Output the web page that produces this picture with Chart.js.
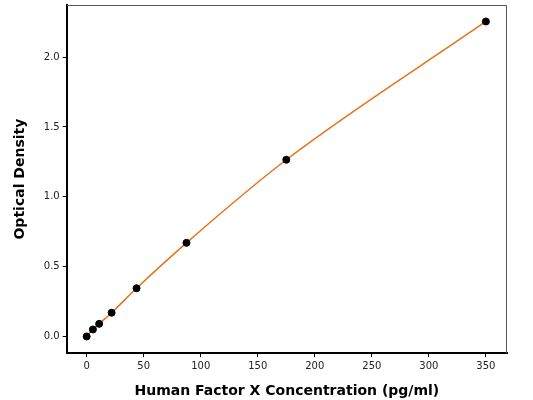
<!DOCTYPE html>
<html>
<head>
<meta charset="utf-8">
<script src="https://cdn.jsdelivr.net/npm/chart.js@4"></script>
<style>
html,body{margin:0;padding:0;background:#fff;}
#wrap{width:533px;height:400px;}
</style>
</head>
<body>
<div id="wrap"><canvas id="c" width="533" height="400"></canvas></div>
<script>
const concentrations = [0, 5.47, 10.94, 21.88, 43.75, 87.5, 175, 350];
const opticalDensity = [0.0, 0.05, 0.09, 0.17, 0.345, 0.67, 1.265, 2.255];
const xTickValues = [0, 50, 100, 150, 200, 250, 300, 350];
const yTickValues = [0.0, 0.5, 1.0, 1.5, 2.0];
const xTitle = 'Human Factor X Concentration (pg/ml)';
const yTitle = 'Optical Density';

const pts = concentrations.map((x, i) => ({x: x, y: opticalDensity[i]}));

const frame = {
  id: 'frame',
  beforeDatasetsDraw(chart) {
    const a = chart.chartArea, ctx = chart.ctx;
    ctx.save();
    ctx.strokeStyle = '#555';
    ctx.lineWidth = 1;
    ctx.beginPath();
    ctx.moveTo(a.left, a.top + 0.5);
    ctx.lineTo(a.right - 0.5, a.top + 0.5);
    ctx.lineTo(a.right - 0.5, a.bottom);
    ctx.stroke();
    ctx.restore();
  }
};

new Chart(document.getElementById('c'), {
  type: 'scatter',
  data: {
    datasets: [
      {
        data: pts,
        showLine: true,
        borderColor: '#e8711a',
        borderWidth: 1.5,
        pointRadius: 0,
        cubicInterpolationMode: 'monotone',
        order: 2
      },
      {
        data: pts,
        showLine: false,
        backgroundColor: '#000',
        borderColor: '#000',
        pointRadius: 3.5,
        order: 1
      }
    ]
  },
  options: {
    responsive: false,
    animation: false,
    devicePixelRatio: 1,
    layout: {padding: {top: 4, right: 26, left: 12, bottom: 0}},
    plugins: {legend: {display: false}, tooltip: {enabled: false}},
    scales: {
      x: {
        type: 'linear',
        min: -17.5,
        max: 368.5,
        afterBuildTicks: s => { s.ticks = xTickValues.map(v => ({value: v})); },
        grid: {drawOnChartArea: false, drawTicks: true, tickLength: 4, tickColor: '#000', tickWidth: 1},
        border: {display: true, color: '#000', width: 2},
        ticks: {color: '#222', font: {family: 'DejaVu Sans', size: 10}, padding: 3, maxRotation: 0},
        title: {display: true, text: xTitle, color: '#000', font: {family: 'DejaVu Sans', size: 14, weight: 'bold'}, padding: {top: 8, bottom: 0}}
      },
      y: {
        type: 'linear',
        min: -0.12,
        max: 2.373,
        afterBuildTicks: s => { s.ticks = yTickValues.map(v => ({value: v})); },
        afterFit: s => { s.paddingTop = 0; s.paddingBottom = 0; },
        grid: {drawOnChartArea: false, drawTicks: true, tickLength: 4, tickColor: '#000', tickWidth: 1},
        border: {display: true, color: '#000', width: 2},
        ticks: {color: '#222', font: {family: 'DejaVu Sans', size: 10}, padding: 3, callback: v => v.toFixed(1)},
        title: {display: true, text: yTitle, color: '#000', font: {family: 'DejaVu Sans', size: 14, weight: 'bold'}, padding: {top: 0, bottom: 12}}
      }
    }
  },
  plugins: [frame]
});
</script>
</body>
</html>
